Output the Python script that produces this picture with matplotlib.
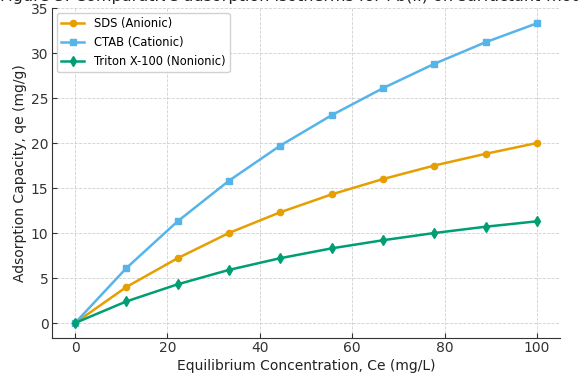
import matplotlib
matplotlib.use("Agg")
import matplotlib.pyplot as plt
import numpy as np

ce = [0, 11.1, 22.2, 33.3, 44.4, 55.6, 66.7, 77.8, 88.9, 100]
sds = [0, 4.0, 7.2, 10.0, 12.3, 14.3, 16.0, 17.5, 18.8, 20.0]
ctab = [0, 6.1, 11.3, 15.8, 19.7, 23.1, 26.1, 28.8, 31.2, 33.3]
triton = [0, 2.4, 4.3, 5.9, 7.2, 8.3, 9.2, 10.0, 10.7, 11.3]
labels = ["SDS (Anionic)", "CTAB (Cationic)", "Triton X-100 (Nonionic)"]
title = "Figure 3: Comparative adsorption isotherms for Pb(II) on surfactant-modified adsorbent"

fig = plt.figure(figsize=(5.78, 3.75), dpi=100)
ax = fig.add_axes([52/578, 1 - 338/375, (560-52)/578, (338-8)/375])

ax.plot(ce, sds, color="#E69F00", marker="o", markersize=4.5, linewidth=1.8, label=labels[0])
ax.plot(ce, ctab, color="#56B4E9", marker="s", markersize=4.5, linewidth=1.8, label=labels[1])
ax.plot(ce, triton, color="#009E73", marker="d", markersize=5, linewidth=1.8, label=labels[2])

ax.grid(True, linestyle="--", color="#d0d0d0", linewidth=0.6)
ax.set_axisbelow(True)
for s in ["top", "right"]:
    ax.spines[s].set_visible(False)
for s in ["left", "bottom"]:
    ax.spines[s].set_color("#333333")
ax.tick_params(colors="#333333", labelsize=10, direction="in", length=3.5, pad=2.5)
ax.set_xlabel("Equilibrium Concentration, Ce (mg/L)", fontsize=10, color="#222222", labelpad=2.5)
ax.set_ylabel("Adsorption Capacity, qe (mg/g)", fontsize=10, color="#222222", labelpad=3)
ax.set_yticks([0, 5, 10, 15, 20, 25, 30, 35])
ax.legend(loc="upper left", fontsize=8.3, frameon=True, framealpha=0.9, edgecolor="#cccccc",
          borderaxespad=0.4)

fig.text(352/578, 1 + 4/375, title, ha="center", va="center", fontsize=11.5, color="#222222")

fig.savefig("out.png", dpi=100)
